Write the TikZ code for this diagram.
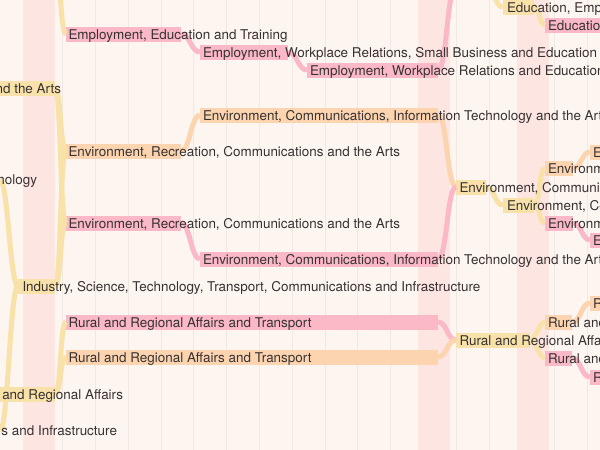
\documentclass[tikz,border=0pt]{standalone}
\usepackage{fontspec}
\setmainfont{TeX Gyre Heros}
\definecolor{bg}{RGB}{252,245,240}
\definecolor{bandc}{RGB}{253,229,226}
\definecolor{gridc}{RGB}{243,231,226}
\definecolor{pk}{RGB}{251,184,199}
\definecolor{og}{RGB}{253,212,176}
\definecolor{yl}{RGB}{248,226,170}
\definecolor{txt}{RGB}{55,50,50}
\tikzset{
  bx/.style={inner sep=0pt, outer sep=0pt, minimum height=15pt, anchor=west, draw=none},
  lbl/.style={inner sep=0pt, outer sep=0pt, anchor=base west, text=txt, font=\fontsize{13.45}{15}\selectfont},
  lble/.style={lbl, anchor=base east},
  conn/.style={line width=5pt},
}
\begin{document}
\begin{tikzpicture}[x=1pt,y=-1pt]
\useasboundingbox (0,0) rectangle (600,450);
\clip (0,0) rectangle (600,450);
\fill[bg] (0,0) rectangle (600,450);
\foreach \k in {0,...,16} {\draw[gridc, line width=0.8pt] ({62.5+32.8*\k},0) -- ({62.5+32.8*\k},450);}
\fill[bandc] (23,0) rectangle (55,450);
\fill[bandc] (418,0) rectangle (450,450);
\fill[bandc] (517,0) rectangle (549,450);

% ---- boxes ----
\coordinate (top1) at (55,-35);
\node[bx, fill=yl, minimum width=65pt] (l1) at (-10,88) {};
\coordinate (l2) at (0,180);
\node[bx, fill=yl, minimum width=37pt] (l3) at (18,286) {};
\node[bx, fill=yl, minimum width=65pt] (l4) at (-10,394) {};
\coordinate (l5) at (0,431);

\node[bx, fill=pk, minimum width=115pt] (m1) at (66,34) {};
\node[bx, fill=og, minimum width=115pt] (m2) at (66,151) {};
\node[bx, fill=pk, minimum width=115pt] (m3) at (66,223) {};
\node[bx, fill=pk, minimum width=372pt] (m4) at (66,322) {};
\node[bx, fill=og, minimum width=372pt] (m5) at (66,357) {};

\node[bx, fill=pk, minimum width=88pt] (c1) at (200,52) {};
\node[bx, fill=og, minimum width=238pt] (c2) at (200,115) {};
\node[bx, fill=pk, minimum width=238pt] (c3) at (200,259) {};
\node[bx, fill=pk, minimum width=131pt] (d1) at (307,70) {};

\node[bx, fill=yl, minimum width=30pt] (e0) at (456,-14) {};
\node[bx, fill=yl, minimum width=30pt] (e1) at (456,187) {};
\node[bx, fill=yl, minimum width=74pt] (e2) at (456,340) {};

\node[bx, fill=yl, minimum width=31pt] (f0) at (503,7) {};
\node[bx, fill=pk, minimum width=60pt] (f0b) at (545,25) {};
\node[bx, fill=yl, minimum width=31pt] (f3) at (503,205) {};
\node[bx, fill=og, minimum width=28pt] (f2) at (545,168) {};
\node[bx, fill=pk, minimum width=28pt] (f4) at (545,223) {};
\node[bx, fill=og, minimum width=20pt] (f1) at (590,152) {};
\node[bx, fill=pk, minimum width=20pt] (f5) at (590,240) {};

\node[bx, fill=og, minimum width=27pt] (g2) at (545,322) {};
\node[bx, fill=pk, minimum width=27pt] (g3) at (545,358) {};
\node[bx, fill=og, minimum width=20pt] (g1) at (590,303) {};
\node[bx, fill=pk, minimum width=20pt] (g4) at (590,377) {};

% ---- connectors ----
\draw[conn, yl] (top1) .. controls +(6,0) and +(-6,0) .. (m1.west);
\draw[conn, yl] (l1.east) .. controls +(6,0) and +(-6,0) .. (m2.west);
\draw[conn, yl] (l1.east) .. controls +(6,0) and +(-6,0) .. (m3.west);
\draw[conn, yl] (l3.east) .. controls +(6,0) and +(-6,0) .. (m2.west);
\draw[conn, yl] (l3.east) .. controls +(6,0) and +(-6,0) .. (m3.west);
\draw[conn, yl] (l4.east) .. controls +(6,0) and +(-6,0) .. (m4.west);
\draw[conn, yl] (l4.east) .. controls +(6,0) and +(-6,0) .. (m5.west);
\draw[conn, yl] (l2) .. controls +(8,0) and +(-8,0) .. (l3.west);
\draw[conn, yl] (l5) .. controls +(8,0) and +(-8,0) .. (l3.west);

\draw[conn, pk] (m1.east) .. controls +(9,0) and +(-9,0) .. (c1.west);
\draw[conn, pk] (c1.east) .. controls +(9,0) and +(-9,0) .. (d1.west);
\draw[conn, pk] (d1.east) .. controls +(9,0) and +(-9,0) .. (e0.west);
\draw[conn, og] (m2.east) .. controls +(9,0) and +(-9,0) .. (c2.west);
\draw[conn, pk] (m3.east) .. controls +(9,0) and +(-9,0) .. (c3.west);
\draw[conn, og] (c2.east) .. controls +(9,0) and +(-9,0) .. (e1.west);
\draw[conn, pk] (c3.east) .. controls +(9,0) and +(-9,0) .. (e1.west);
\draw[conn, pk] (m4.east) .. controls +(9,0) and +(-9,0) .. (e2.west);
\draw[conn, og] (m5.east) .. controls +(9,0) and +(-9,0) .. (e2.west);

\draw[conn, yl] (e0.east) .. controls +(9,0) and +(-9,0) .. (f0.west);
\draw[conn, yl] (f0.east) .. controls +(6,0) and +(-6,0) .. (f0b.west);
\draw[conn, yl] (e1.east) .. controls +(9,0) and +(-9,0) .. (f3.west);
\draw[conn, yl] (f3.east) .. controls +(6,0) and +(-6,0) .. (f2.west);
\draw[conn, yl] (f3.east) .. controls +(6,0) and +(-6,0) .. (f4.west);
\draw[conn, og] (f2.east) .. controls +(8,0) and +(-8,0) .. (f1.west);
\draw[conn, pk] (f4.east) .. controls +(8,0) and +(-8,0) .. (f5.west);
\draw[conn, yl] (e2.east) .. controls +(6,0) and +(-6,0) .. (g2.west);
\draw[conn, yl] (e2.east) .. controls +(6,0) and +(-6,0) .. (g3.west);
\draw[conn, og] (g2.east) .. controls +(9,0) and +(-9,0) .. (g1.west);
\draw[conn, pk] (g3.east) .. controls +(9,0) and +(-9,0) .. (g4.west);

% ---- labels ----
\node[lble] (l1t) at (61,93.2) {nd the Arts};
\node[lble] (l2t) at (37,184.2) {nology};
\node[lbl] (l3t) at (22.5,291.2) {Industry, Science, Technology, Transport, Communications and Infrastructure};
\node[lble] (l4t) at (123,399.2) {and Regional Affairs};
\node[lble] (l5t) at (117,435.2) {s and Infrastructure};

\node[lbl] (m1t) at (68.5,39.2) {Employment, Education and Training};
\node[lbl] (m2t) at (68.5,156.2) {Environment, Recreation, Communications and the Arts};
\node[lbl] (m3t) at (68.5,228.2) {Environment, Recreation, Communications and the Arts};
\node[lbl] (m4t) at (68.5,327.2) {Rural and Regional Affairs and Transport};
\node[lbl] (m5t) at (68.5,362.2) {Rural and Regional Affairs and Transport};

\node[lbl] (c1t) at (203,57.2) {Employment, Workplace Relations, Small Business and Education};
\node[lbl] (c2t) at (203,120.2) {Environment, Communications, Information Technology and the Arts};
\node[lbl] (c3t) at (203,264.2) {Environment, Communications, Information Technology and the Arts};
\node[lbl] (d1t) at (310,75.2) {Employment, Workplace Relations and Education};

\node[lbl] (e1t) at (459.5,192.2) {Environment, Communications};
\node[lbl] (e2t) at (459.5,345.2) {Rural and Regional Affairs};
\node[lbl] (f0t) at (507,12.2) {Education, Employment};
\node[lbl] (f0bt) at (548,30.2) {Education};
\node[lbl] (f3t) at (507,210.2) {Environment, Communications};
\node[lbl] (f2t) at (548,173.2) {Environment};
\node[lbl] (f4t) at (548,228.2) {Environment};
\node[lbl] (f1t) at (593,157.2) {Environment};
\node[lbl] (f5t) at (593,245.2) {Environment};
\node[lbl] (g2t) at (548,327.2) {Rural and Regional};
\node[lbl] (g3t) at (548,363.2) {Rural and Regional};
\node[lbl] (g1t) at (593,308.2) {Rural};
\node[lbl] (g4t) at (593,382.2) {Rural};
\end{tikzpicture}
\end{document}
